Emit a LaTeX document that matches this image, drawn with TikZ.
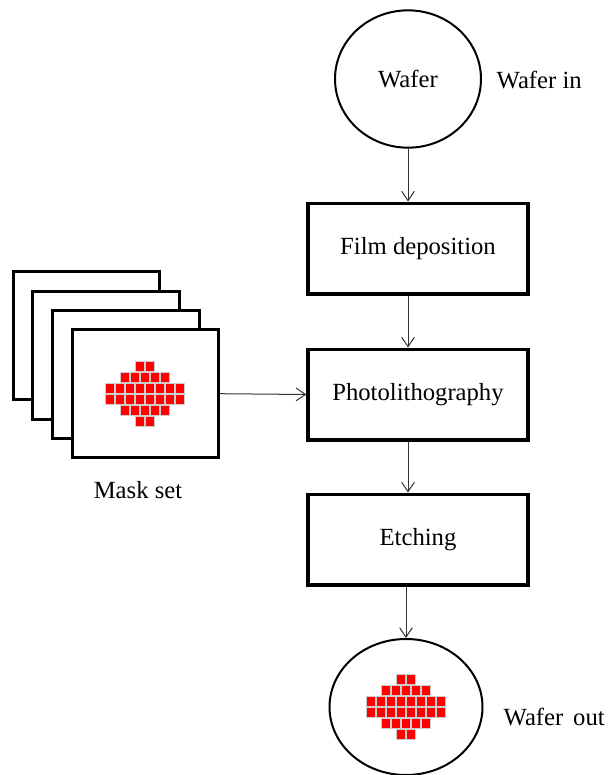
\documentclass[tikz,border=0pt]{standalone}
\usepackage{fontspec}
\setmainfont{Liberation Serif}
\usetikzlibrary{arrows.meta,shapes.geometric}

% red die grid printed on the masks and the finished wafer
\tikzset{
  chip/.pic={
    \foreach \ry/\cols in {-33/{-10,0},-22/{-25,-15,-5,5,15},-11/{-40,-30,-20,-10,0,10,20,30},
                           0/{-40,-30,-20,-10,0,10,20,30},11/{-25,-15,-5,5,15},22/{-10,0}}
      \foreach \cx in \cols {
        \fill[gray!40] (\cx,\ry) rectangle +(10,11);
        \fill[red] (\cx+1,\ry+1.2) rectangle +(8,8.6);
      }
  }
}

\begin{document}
\begin{tikzpicture}[x=0.75pt,y=-0.75pt,
    font=\fontsize{18.5}{22}\selectfont,
    >={Straight Barb[length=7pt,width=9.5pt]},
    waferdisk/.style={ellipse,draw,line width=1.5pt,minimum width=109.5pt,minimum height=103pt},
    stepbox/.style={rectangle,draw,line width=2.5pt,minimum width=165pt,minimum height=68pt},
    maskcard/.style={rectangle,draw,fill=white,line width=2.25pt,minimum width=110pt,minimum height=96pt},
    flow/.style={->,line width=0.75pt,draw=black!80}]
  \useasboundingbox (0,0) rectangle (612,775);

  % process chain
  \node[waferdisk] (wafer) at (408,79) {Wafer};
  \node[anchor=west] (waferin) at (492,80) {Wafer in};
  \node[stepbox] (film) at (418,248.5) {Film deposition};
  \node[stepbox] (photo) at (418,394.5) {Photolithography};
  \node[stepbox] (etch) at (418,539.5) {Etching};
  \node[waferdisk,minimum width=114.75pt,minimum height=102pt] (waferout) at (406,707) {};
  \pic at (waferout) {chip};
  \node[anchor=west] (outlabel) at (499,717) {Wafer\hspace{0.4em}out};

  % stack of masks, back to front
  \foreach \k in {1,...,4}
    \node[maskcard] (mask\k) at (67+19.6*\k,316.5+19.3*\k) {};
  \pic at (mask4) {chip};
  \node (masklabel) at (138,490) {Mask set};

  \draw[flow] (wafer.south) -- (wafer.south |- film.north);
  \draw[flow] (film.south -| wafer) -- (photo.north -| wafer);
  \draw[flow] (photo.south -| wafer) -- (etch.north -| wafer);
  \draw[flow] (etch.south -| waferout) -- (waferout.north);
  \draw[flow] (mask4.east) -- (photo.west);
\end{tikzpicture}
\end{document}
